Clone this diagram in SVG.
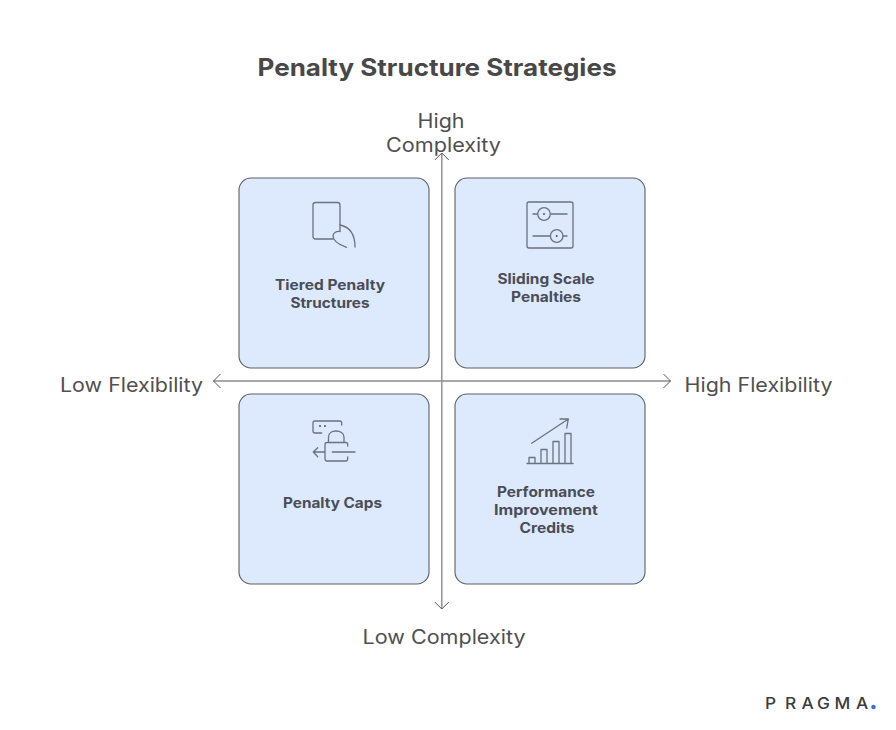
<svg xmlns="http://www.w3.org/2000/svg" width="896" height="730" viewBox="0 0 896 730">
<defs>
<marker id="arr" viewBox="0 0 10 16" refX="9" refY="8" markerWidth="10" markerHeight="16" markerUnits="userSpaceOnUse" orient="auto"><path d="M2 1L9 8L2 15" fill="none" stroke="#555" stroke-width="1"/></marker>
</defs>
<style>
text{font-family:Inter,"Liberation Sans",sans-serif;text-anchor:middle}
.t{font-size:24px;font-weight:700;fill:#484848}
.a{font-size:19.5px;font-weight:400;fill:#505050}
.l{font-size:14px;font-weight:700;fill:#4a4d55}
.c{fill:#dde9fd;stroke:#5c6068;stroke-width:1.100}
.i{fill:none;stroke:#6b7280;stroke-width:1.300;stroke-linecap:round;stroke-linejoin:round}
.x{fill:none;stroke:#8c8c8c;stroke-width:1.400}
.g{font-size:16px;font-weight:500;fill:#3c3c3c;text-anchor:start}
</style>
<rect width="896" height="730" fill="#fff"/>
<text class="t" x="437" y="76" textLength="359" lengthAdjust="spacingAndGlyphs">Penalty Structure Strategies</text>
<g id="node-tiered">
<rect class="c" x="239" y="178" width="190" height="190" rx="12"/>
<path class="i" d="M340 231V205Q340 202.500 337.500 202.500H315.500Q313 202.500 313 205V236.500Q313 239 315.500 239H333"/>
<path class="i" d="M340 225C350 227 355 235 355 247M346.500 247.300C340 245 333 241 333 236C333 233 336 231 340 231.500"/>
<text class="l" x="330" y="290" textLength="110" lengthAdjust="spacingAndGlyphs">Tiered Penalty</text>
<text class="l" x="330" y="308" textLength="79" lengthAdjust="spacingAndGlyphs">Structures</text>
</g>
<g id="node-sliding">
<rect class="c" x="455" y="178" width="190" height="190" rx="12"/>
<rect class="i" x="527" y="202" width="46" height="46" rx="2"/>
<path class="i" d="M533 214H537.500M550.500 214H567M533 236H550.500M563 236H567"/>
<circle class="i" cx="544" cy="214" r="6.300"/><circle class="i" cx="556.700" cy="236" r="6.300"/>
<circle cx="544" cy="214" r="0.900" fill="#444"/><circle cx="556.700" cy="236" r="0.900" fill="#444"/>
<text class="l" x="546" y="284" textLength="97" lengthAdjust="spacingAndGlyphs">Sliding Scale</text>
<text class="l" x="546" y="302" textLength="70" lengthAdjust="spacingAndGlyphs">Penalties</text>
</g>
<g id="node-caps">
<rect class="c" x="239" y="394" width="190" height="190" rx="12"/>
<path class="i" d="M321.700 433H315Q313 433 313 431V423Q313 421 315 421H339.500Q341.700 421 341.700 423V425"/>
<circle cx="320" cy="426" r="0.900" fill="#444"/><circle cx="325" cy="426" r="0.900" fill="#444"/>
<path class="i" d="M328.500 442V437C328.500 433 332 431 336 431C340 431 344 433 344 437V442"/>
<path class="i" d="M347.700 446V444.500Q347.700 442.500 345.700 442.500H327Q325 442.500 325 444.500V458.500Q325 461 327 461H345.700Q347.700 461 347.700 458.500V457M313.300 452H325M317.700 447.700L313.300 452L317.700 456.700M332.300 452H355"/>
<text class="l" x="332.500" y="508" textLength="99" lengthAdjust="spacingAndGlyphs">Penalty Caps</text>
</g>
<g id="node-credits">
<rect class="c" x="455" y="394" width="190" height="190" rx="12"/>
<path class="i" d="M527 463.500H573M529 463.500V457.500H535V463.500M541 463.500V449.500H547V463.500M553 463.500V441.500H559V463.500M565 463.500V433.500H571V463.500M531.700 443.300L568.300 419M560 419H568.300L566.700 428"/>
<text class="l" x="546" y="497" textLength="98" lengthAdjust="spacingAndGlyphs">Performance</text>
<text class="l" x="546" y="515" textLength="104" lengthAdjust="spacingAndGlyphs">Improvement</text>
<text class="l" x="547" y="533" textLength="55" lengthAdjust="spacingAndGlyphs">Credits</text>
</g>
<g id="connectors">
<path class="x" d="M441.800 381V153" marker-end="url(#arr)"/>
<path class="x" d="M441.800 381V609" marker-end="url(#arr)"/>
<path class="x" d="M441.800 381H213.500" marker-end="url(#arr)"/>
<path class="x" d="M441.800 381H670.500" marker-end="url(#arr)"/>
</g>
<g id="labels">
<text class="a" x="441" y="128" textLength="47" lengthAdjust="spacingAndGlyphs">High</text>
<text class="a" x="443.500" y="152" textLength="115" lengthAdjust="spacingAndGlyphs">Complexity</text>
<text class="a" x="444" y="644" textLength="163" lengthAdjust="spacingAndGlyphs">Low Complexity</text>
<text class="a" x="131.500" y="392" textLength="143" lengthAdjust="spacingAndGlyphs">Low Flexibility</text>
<text class="a" x="758.500" y="392" textLength="148" lengthAdjust="spacingAndGlyphs">High Flexibility</text>
</g>
<g id="logo">
<text class="g" transform="translate(765 709) scale(1.08 1)" x="0 18.500 33.800 48.100 64.400 84.300" y="0" font-weight="400">PRAGMA</text>
<circle cx="873.500" cy="707" r="2.300" fill="#3f6fd8"/>
</g>
</svg>
